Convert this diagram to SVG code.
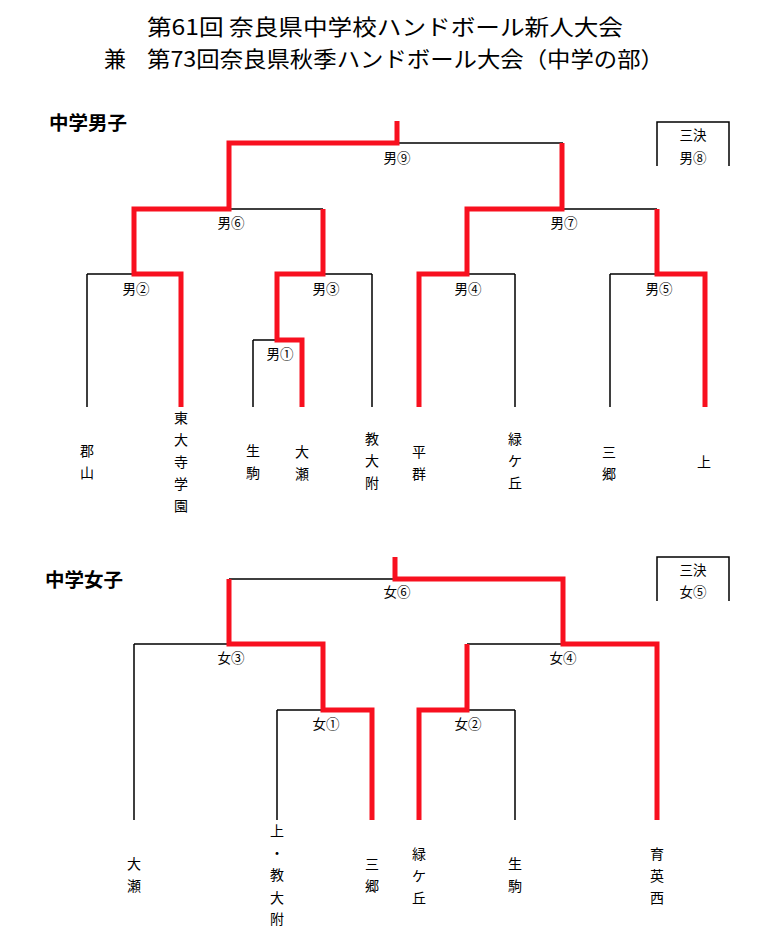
<svg xmlns="http://www.w3.org/2000/svg" width="768" height="949" viewBox="0 0 768 949">
<style>
text{font-family:"Noto Sans CJK JP","Noto Sans",sans-serif;fill:#000;dominant-baseline:central}
.title{font-size:22px}
.head{font-size:19px;font-weight:bold}
.lbl{font-size:13.5px;text-anchor:middle}
.team{font-size:14px;text-anchor:middle}
.blk{fill:none;stroke:#000;stroke-width:1.5}
.red{fill:none;stroke:#f8101f;stroke-width:5;stroke-linejoin:miter}
</style>
<rect width="768" height="949" fill="#fff"/>
<g id="title">
<text class="title" x="147" y="25" textLength="476" lengthAdjust="spacingAndGlyphs">第61回 奈良県中学校ハンドボール新人大会</text>
<text class="title" x="104" y="57">兼</text>
<text class="title" x="147" y="57" textLength="517" lengthAdjust="spacingAndGlyphs">第73回奈良県秋季ハンドボール大会（中学の部）</text>
</g>
<g id="head-boys"><text class="head" x="49" y="121" textLength="78" lengthAdjust="spacingAndGlyphs">中学男子</text></g>
<g id="head-girls"><text class="head" x="45" y="578" textLength="78" lengthAdjust="spacingAndGlyphs">中学女子</text></g>

<g id="connectors">
<!-- boys black -->
<path class="blk" d="M229,143H563 M134,209H323 M467,209H657 M87,274H181 M277,274H372 M253,340H302 M419,274H515 M610,274H705"/>
<path class="blk" d="M87,274V407 M372,274V407 M253,340V407 M515,274V407 M610,274V407"/>
<path class="blk" d="M657,166V122H729V166"/>
<!-- boys red -->
<path class="red" d="M181,407V274H134V209H229V143H397V121"/>
<path class="red" d="M302,407V340H277V274H323V209"/>
<path class="red" d="M419,407V274H467V209H562V143"/>
<path class="red" d="M705,407V274H657V209"/>
<!-- girls black -->
<path class="blk" d="M229,579H563 M134,644H323 M467,644H657 M277,710H372 M419,710H515"/>
<path class="blk" d="M134,644V820 M277,710V820 M515,710V820"/>
<path class="blk" d="M657,601V557H729V601"/>
<!-- girls red -->
<path class="red" d="M372,820V710H323V644H229V579"/>
<path class="red" d="M419,820V710H467V644"/>
<path class="red" d="M657,820V644H563V579H395V557"/>
</g>

<g id="match-boys">
<text class="lbl" x="397" y="157">男⑨</text>
<text class="lbl" x="231" y="222">男⑥</text>
<text class="lbl" x="564" y="222">男⑦</text>
<text class="lbl" x="136" y="288">男②</text>
<text class="lbl" x="326" y="288">男③</text>
<text class="lbl" x="280" y="353">男①</text>
<text class="lbl" x="468" y="288">男④</text>
<text class="lbl" x="659" y="288">男⑤</text>
<text class="lbl" x="693" y="134">三決</text>
<text class="lbl" x="693" y="157">男⑧</text>
</g>
<g id="match-girls">
<text class="lbl" x="397" y="591">女⑥</text>
<text class="lbl" x="231" y="657">女③</text>
<text class="lbl" x="563" y="657">女④</text>
<text class="lbl" x="326" y="723">女①</text>
<text class="lbl" x="468" y="723">女②</text>
<text class="lbl" x="693" y="569">三決</text>
<text class="lbl" x="693" y="591">女⑤</text>
</g>

<g id="team-boys">
<g id="b-koriyama"><text class="team"><tspan x="87" y="450">郡</tspan><tspan x="87" y="472">山</tspan></text></g>
<g id="b-todaiji"><text class="team"><tspan x="181" y="417">東</tspan><tspan x="181" y="439">大</tspan><tspan x="181" y="461">寺</tspan><tspan x="181" y="483">学</tspan><tspan x="181" y="505">園</tspan></text></g>
<g id="b-ikoma"><text class="team"><tspan x="253" y="450">生</tspan><tspan x="253" y="472">駒</tspan></text></g>
<g id="b-ose"><text class="team"><tspan x="302" y="451">大</tspan><tspan x="302" y="473">瀬</tspan></text></g>
<g id="b-kyodaifu"><text class="team"><tspan x="372" y="438">教</tspan><tspan x="372" y="460">大</tspan><tspan x="372" y="482">附</tspan></text></g>
<g id="b-heguri"><text class="team"><tspan x="419" y="451">平</tspan><tspan x="419" y="473">群</tspan></text></g>
<g id="b-midorigaoka"><text class="team"><tspan x="515" y="438">緑</tspan><tspan x="515" y="460">ケ</tspan><tspan x="515" y="482">丘</tspan></text></g>
<g id="b-sango"><text class="team"><tspan x="609" y="451">三</tspan><tspan x="609" y="473">郷</tspan></text></g>
<g id="b-kami"><text class="team" x="704" y="461">上</text></g>
</g>

<g id="team-girls">
<g id="g-ose"><text class="team"><tspan x="134" y="863">大</tspan><tspan x="134" y="885">瀬</tspan></text></g>
<g id="g-kami-kyodaifu"><text class="team"><tspan x="277" y="830">上</tspan><tspan x="277" y="852">・</tspan><tspan x="277" y="874">教</tspan><tspan x="277" y="897">大</tspan><tspan x="277" y="918">附</tspan></text></g>
<g id="g-sango"><text class="team"><tspan x="372" y="863">三</tspan><tspan x="372" y="885">郷</tspan></text></g>
<g id="g-midorigaoka"><text class="team"><tspan x="419" y="853">緑</tspan><tspan x="419" y="875">ケ</tspan><tspan x="419" y="897">丘</tspan></text></g>
<g id="g-ikoma"><text class="team"><tspan x="515" y="863">生</tspan><tspan x="515" y="885">駒</tspan></text></g>
<g id="g-ikueinishi"><text class="team"><tspan x="657" y="853">育</tspan><tspan x="657" y="875">英</tspan><tspan x="657" y="897">西</tspan></text></g>
</g>
</svg>
